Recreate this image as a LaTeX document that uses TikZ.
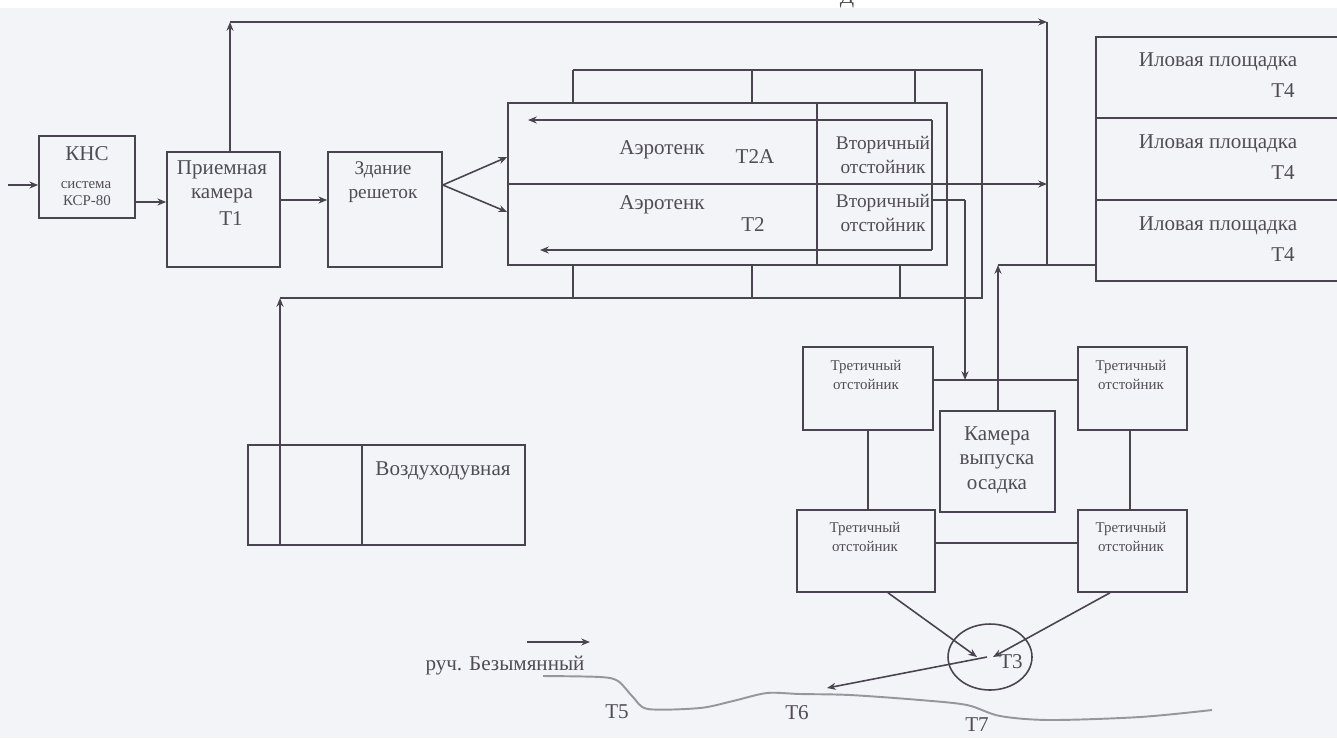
\documentclass[tikz,border=0pt]{standalone}
\usepackage{fontspec}
\setmainfont{Liberation Serif}
\usetikzlibrary{arrows.meta,fit,shapes.geometric}

\definecolor{paper}{RGB}{243,244,248}
\definecolor{ink}{RGB}{74,68,80}
\definecolor{print}{RGB}{80,76,84}
\definecolor{brook}{RGB}{150,150,156}

\begin{document}
\begin{tikzpicture}[x=0.02cm, y=-0.02cm,
  box/.style={draw=ink, line width=0.9pt, inner sep=0pt, fit={#1}},
  lbl/.style={text=print, inner sep=0pt, align=center, font=\fontsize{12}{14}\selectfont},
  midtxt/.style={lbl, font=\fontsize{11}{14}\selectfont},
  smalltxt/.style={lbl, font=\fontsize{8.5}{10.5}\selectfont},
  pipe/.style={draw=ink, line width=0.9pt},
  flow/.style={pipe, -{Stealth[length=5pt, width=4pt]}},
]
\useasboundingbox (0,0) rectangle (1337,738);
\clip (0,0) rectangle (1337,738);
\fill[paper] (0,8) rectangle (1337,738);
\node[lbl, anchor=base] (mark) at (847,3) {Д};

% buildings
\node[box={(39,136) (135,218)}] (kns) {};
\node[box={(167,152) (280,267)}] (priem) {};
\node[box={(328,152) (442,267)}] (resh) {};
\node[box={(508,103) (947,265)}] (aero) {};
\node[box={(1096,37) (1345,118)}] (ilo1) {};
\node[box={(1096,118) (1345,200)}] (ilo2) {};
\node[box={(1096,200) (1345,281)}] (ilo3) {};
\node[box={(803,347) (933,430)}] (tret1) {};
\node[box={(1078,347) (1187,430)}] (tret2) {};
\node[box={(797,510) (935,592)}] (tret3) {};
\node[box={(1078,510) (1187,592)}] (tret4) {};
\node[box={(940,411) (1055,512)}] (kam) {};
\node[box={(248,445) (525,545)}] (vozd) {};
\node[draw=ink, line width=0.9pt, ellipse, inner sep=0pt,
      minimum width=1.68cm, minimum height=1.32cm] (t3) at (990,657) {};

% texts
\node[lbl] (kns-a) at (87,154) {КНС};
\node[smalltxt] (kns-b) at (86,185) {система};
\node[smalltxt] (kns-c) at (87,201) {КСР-80};
\node[lbl] (priem-a) at (222,182) {Приемная\\камера};
\node[lbl] (priem-b) at (231,219) {Т1};
\node[midtxt] (resh-a) at (383,182) {Здание\\решеток};
\node[lbl] (aero-a) at (662,150) {Аэротенк};
\node[lbl] (aero-b) at (755,157) {Т2А};
\node[lbl] (aero-c) at (662,205) {Аэротенк};
\node[lbl] (aero-d) at (753,225) {Т2};
\node[midtxt] (vtor-a) at (883,155) {Вторичный\\отстойник};
\node[midtxt] (vtor-b) at (883,213) {Вторичный\\отстойник};
\foreach \n/\y in {1/62,2/144,3/226}{
  \node[lbl] (ilo\n-a) at (1218,\y) {Иловая площадка};
  \node[lbl] (ilo\n-b) at (1283,\y+29) {Т4};
}
\node[smalltxt] (tret1-a) at (866,375) {Третичный\\отстойник};
\node[smalltxt] (tret2-a) at (1131,375) {Третичный\\отстойник};
\node[smalltxt] (tret3-a) at (865,537) {Третичный\\отстойник};
\node[smalltxt] (tret4-a) at (1131,537) {Третичный\\отстойник};
\node[lbl] (kam-a) at (997,460) {Камера\\выпуска\\осадка};
\node[lbl] (vozd-a) at (443,471) {Воздуходувная};
\node[lbl] (t3-a) at (1011,662) {Т3};
\node[lbl] (ruch) at (505,666) {руч. Безымянный};
\node[lbl] (t5) at (617,712) {Т5};
\node[lbl] (t6) at (797,713) {Т6};
\node[lbl] (t7) at (977,725) {Т7};

% main line
\coordinate (inlet) at (8,185);
\draw[flow] (inlet) -- (inlet -| kns.west);
\draw[flow] (kns.east |- 0,202) -- (priem.west |- 0,202);
\draw[flow] (priem.east |- 0,200) -- (resh.west |- 0,200);
\draw[flow] (resh.east |- 0,185) -- (aero.west |- 0,157);
\draw[flow] (resh.east |- 0,185) -- (aero.west |- 0,212);
\draw[pipe] (817,0 |- aero.north) -- (817,0 |- aero.south);

% bypass to sludge beds
\coordinate (by1) at (230,22);
\coordinate (by2) at (1047,22);
\coordinate (by3) at (1047,265);
\coordinate (sl1) at (998,265);
\draw[flow] (230,0 |- priem.north) -- (by1);
\draw[flow] (by1) -- (by2);
\draw[pipe] (by2) -- (by3);
\draw[pipe] (sl1) -- (sl1 -| ilo3.west);
\draw[flow] (sl1 |- kam.north) -- (sl1);
\draw[flow] (aero.west) -- (aero.west -| by2);

% return sludge
\coordinate (ret1) at (932,120);
\coordinate (ret2) at (932,250);
\coordinate (ret1e) at (528,120);
\coordinate (ret2e) at (540,250);
\draw[pipe] (ret1) -- (ret2);
\draw[flow] (ret1) -- (ret1e);
\draw[flow] (ret2) -- (ret2e);

% to tertiary settlers
\coordinate (out1) at (932,200);
\coordinate (out2) at (965,200);
\coordinate (tj) at (965,380);
\draw[pipe] (out1) -- (out2);
\draw[flow] (out2) -- (tj);
\draw[pipe] (tret1.east |- tj) -- (tret2.west |- tj);
\draw[pipe] (868,0 |- tret1.south) -- (868,0 |- tret3.north);
\draw[pipe] (1130,0 |- tret2.south) -- (1130,0 |- tret4.north);
\draw[pipe] (tret3.east |- 0,543) -- (tret4.west |- 0,543);

% air lines
\coordinate (air1) at (573,70);
\coordinate (air2) at (982,70);
\coordinate (air3) at (982,298);
\coordinate (air4) at (280,298);
\draw[pipe] (air1) -- (air2) -- (air3) -- (air4);
\foreach \x in {573,752,915} \draw[pipe] (\x,70) -- (\x,0 |- aero.north);
\foreach \x in {573,752,900} \draw[pipe] (\x,0 |- aero.south) -- (\x,298);
\draw[flow] (280,0 |- vozd.north) -- (air4);
\draw[pipe] (280,0 |- vozd.north) -- (280,0 |- vozd.south);
\draw[pipe] (362,0 |- vozd.north) -- (362,0 |- vozd.south);

% outfall
\coordinate (outfall) at (827,688);
\draw[flow] (888,0 |- tret3.south) -- ([xshift=-0.26cm]t3.center);
\draw[flow] (1110,0 |- tret4.south) -- ([xshift=0.06cm]t3.center);
\draw[flow] ([xshift=-0.06cm]t3.center) -- (outfall);

% brook
\coordinate (fl1) at (527,642);
\coordinate (fl2) at (590,642);
\draw[pipe, line width=0.7pt, -{Stealth[length=5pt, width=4pt]}] (fl1) -- (fl2);
\draw[brook, line width=1.1pt] plot[smooth] coordinates {(543,676) (600,677) (618,681) (633,697) (648,709) (700,708) (733,701) (767,693) (800,694) (850,695) (920,700) (967,705) (1000,716) (1050,720) (1140,717) (1212,710)};
\end{tikzpicture}
\end{document}
